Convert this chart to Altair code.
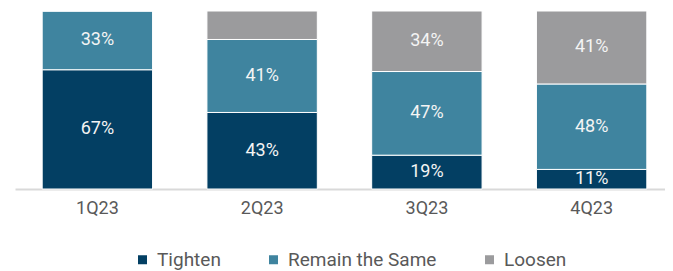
import altair as alt
import pandas as pd

quarters = ["1Q23", "2Q23", "3Q23", "4Q23"]
series = ["Tighten", "Remain the Same", "Loosen"]
tighten = [67, 43, 19, 11]
remain = [33, 41, 47, 48]
loosen = [0, 16, 34, 41]
labels = [
    ["67%", "33%", ""],
    ["43%", "41%", ""],
    ["19%", "47%", "34%"],
    ["11%", "48%", "41%"],
]
colors = ["#033f63", "#3f849f", "#9b9b9d"]

rows = []
for i, q in enumerate(quarters):
    for j, (s, vals) in enumerate(zip(series, [tighten, remain, loosen])):
        rows.append({"quarter": q, "series": s, "order": j, "value": vals[i], "label": labels[i][j]})
df = pd.DataFrame(rows)

FONT = "Roboto, sans-serif"

base = alt.Chart(df).transform_stack(
    stack="value", as_=["y0", "y1"], groupby=["quarter"], sort=[alt.SortField("order")]
).transform_calculate(mid="(datum.y0 + datum.y1) / 2")

xenc = alt.X(
    "quarter:N",
    sort=quarters,
    scale=alt.Scale(paddingInner=0.33, paddingOuter=0.165, range=[0, 659]),
    axis=alt.Axis(
        title=None, ticks=False, labelAngle=0, domainColor="#d9d9d9", domainWidth=2,
        labelFontSize=18, labelColor="#595959", labelFont=FONT, labelPadding=10,
    ),
)

bars = base.mark_bar(stroke="white", strokeWidth=1).encode(
    x=xenc,
    y=alt.Y("y0:Q", scale=alt.Scale(domain=[0, 100]), axis=None),
    y2="y1:Q",
    color=alt.Color(
        "series:N",
        scale=alt.Scale(domain=series, range=colors),
        sort=series,
        legend=alt.Legend(
            title=None, orient="none", direction="horizontal", legendX=118, legendY=239,
            symbolType="square", symbolSize=81, symbolStrokeWidth=0, labelFontSize=19,
            labelColor="#595959", labelFont=FONT, columnPadding=43, symbolOffset=0,
            labelOffset=5,
        ),
    ),
)

text = base.transform_filter("datum.label != ''").mark_text(
    color="#f4f4f4", fontSize=18, font=FONT
).encode(
    x=alt.X("quarter:N", sort=quarters),
    y=alt.Y("mid:Q"),
    text="label:N",
)

chart = alt.layer(bars, text).properties(
    width=650, height=178,
    autosize=alt.AutoSizeParams(type="none"),
    padding={"left": 7, "top": 3, "right": 0, "bottom": 82},
).configure_view(stroke=None)

chart.save("out.html", embed_options={"renderer": "svg", "actions": False})
